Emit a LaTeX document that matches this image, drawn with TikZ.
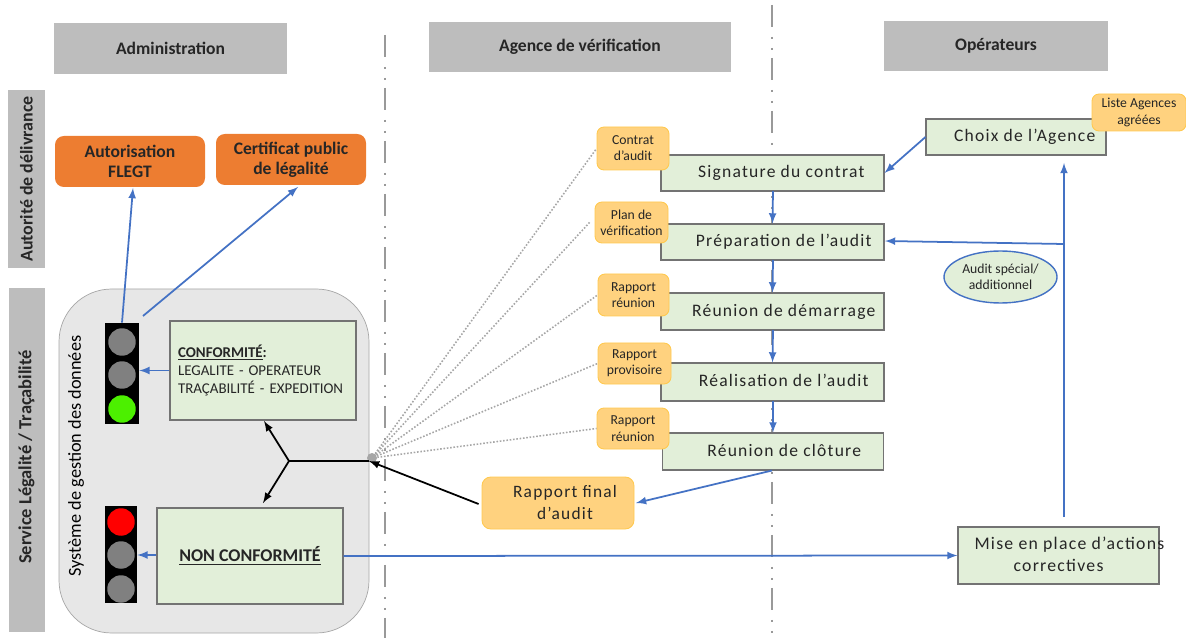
\documentclass[tikz,border=0pt]{standalone}
\usepackage{fontspec}
\setmainfont{Carlito}
\newfontfamily\spacedfont[LetterSpace=7]{Carlito}
\usetikzlibrary{shapes}
\usetikzlibrary{arrows}

\definecolor{headgray}{HTML}{BDBDBD}
\definecolor{panelgray}{HTML}{E7E7E7}
\definecolor{boxgreen}{HTML}{E2EFD9}
\definecolor{docorange}{HTML}{FFD27F}
\definecolor{docedge}{HTML}{FFC94F}
\definecolor{certorange}{HTML}{ED7D31}
\definecolor{linkblue}{HTML}{4472C4}
\definecolor{textdark}{HTML}{262626}

\newcommand{\steptext}[2]{\hspace*{#1}\raisebox{0.05cm}{#2}}

\tikzset{
    boxsize/.style 2 args={minimum width=#1*0.02cm, minimum height=#2*0.02cm, inner sep=0pt},
    headbox/.style={fill=headgray, font=\bfseries\fontsize{10}{12}\selectfont, text=textdark},
    sidebox/.style={headbox, rotate=90, font=\fontsize{10.2}{12}\selectfont\bfseries},
    certbox/.style={fill=certorange, rounded corners=5pt, align=center, font=\bfseries\fontsize{10}{11.5}\selectfont, text=textdark},
    stepbox/.style={draw=black!55, line width=0.6pt, fill=boxgreen, font=\spacedfont\fontsize{10}{12}\selectfont, text=textdark, align=center},
    docnote/.style={draw=docedge, line width=0.5pt, fill=docorange, rounded corners=4pt, align=center, font=\fontsize{7.8}{9.3}\selectfont, text=textdark},
    docfinal/.style={docnote, rounded corners=5pt, font=\spacedfont\fontsize{9.9}{12.5}\selectfont},
    lightcase/.style={fill=black},
    lamp/.style={circle, fill=#1, minimum size=0.55cm, inner sep=0pt},
    bluelink/.style={->, >=latex, linkblue, line width=1pt},
    blacklink/.style={->, >=latex, black, line width=1pt},
    dotlink/.style={gray!70, densely dotted, line width=0.9pt},
    lanesep/.style={gray!80, line width=1pt, dash pattern=on 0.44cm off 0.2cm on 0.04cm off 0.18cm on 0.04cm off 0.16cm}
}

\begin{document}
\begin{tikzpicture}[x=0.02cm, y=-0.02cm]
    \useasboundingbox (0,0) rectangle (1186,638);

    % lanes
    \coordinate (L1a) at (385,35);
    \coordinate (L1b) at (385,638);
    \coordinate (L2a) at (772,5);
    \coordinate (L2b) at (772,638);
    \draw [lanesep] (L1a) -- (L1b);
    \draw [lanesep] (L2a) -- (L2b);

    \node (HA) at (170.5,48.5) [headbox, boxsize={233}{51}] {Administration};
    \node (HV) at (580,47) [headbox, boxsize={302}{50}] {Agence de vérification};
    \node (HO) at (996,46) [headbox, boxsize={224}{50}] {Opérateurs};

    \node (SA) at (26.5,179) [sidebox, boxsize={178}{37}] {Autorité de délivrance};
    \node (SL) at (26.5,460) [sidebox, boxsize={343}{36}, font=\fontsize{10.5}{12}\selectfont\bfseries] {\hspace*{0.12cm}Service Légalité / Traçabilité};

    \node (Panel) at (214,461) [draw=gray!70, fill=panelgray, rounded corners=30pt, boxsize={310}{344}] {};
    \node (PanelText) at (76,456) [rotate=90, font=\fontsize{10.4}{13}\selectfont, text=black] {Système de gestion des données};

    \node (Auto) at (130,161.5) [certbox, boxsize={150}{51}] {Autorisation\\FLEGT};
    \node (Cert) at (291,159.5) [certbox, boxsize={150}{51}] {Certificat public\\de légalité};

    % traffic lights
    \node (T1) at (122,373.5) [lightcase, boxsize={34}{101}] {};
    \node (T1a) at (122,342) [lamp=gray] {};
    \node (T1b) at (122,375) [lamp=gray] {};
    \node (T1c) at (122,409) [lamp={green!90!black!60!lime}] {};
    \node (T2) at (121,554.5) [lightcase, boxsize={32}{97}] {};
    \node (T2a) at (121,522) [lamp=red] {};
    \node (T2b) at (121,555) [lamp=gray] {};
    \node (T2c) at (121,589) [lamp=gray] {};

    \node (Conf) at (263,370.5) [stepbox, boxsize={186}{99}, inner xsep=0.16cm, text width=3.4cm, font=\fontsize{8.5}{10.5}\selectfont, align=left] {\textbf{\underline{CONFORMITÉ}:}\\LEGALITE - OPERATEUR\\TRAÇABILITÉ - EXPEDITION};
    \node (NonConf) at (250,556) [stepbox, boxsize={186}{96}, font=\bfseries\fontsize{10.2}{12}\selectfont] {\underline{NON CONFORMITÉ}};

    % audit steps
    \node (Sign) at (772.5,173) [stepbox, boxsize={223}{36}] {\steptext{0.35cm}{Signature du contrat}};
    \node (Prep) at (772.5,242) [stepbox, boxsize={223}{36}] {\steptext{0.45cm}{Préparation de l’audit}};
    \node (Demar) at (772.5,311.5) [stepbox, boxsize={223}{37}] {\steptext{0.45cm}{Réunion de démarrage}};
    \node (Real) at (772.5,382) [stepbox, boxsize={223}{38}] {\steptext{0.45cm}{Réalisation de l’audit}};
    \node (Clot) at (773,451.5) [stepbox, boxsize={221}{37}] {\steptext{0.45cm}{Réunion de clôture}};

    \node (NContrat) at (633,148.5) [docnote, boxsize={72}{43}] {\raisebox{0.03cm}{Contrat}\\\raisebox{0.03cm}{d’audit}};
    \node (NPlan) at (631.5,222.5) [docnote, boxsize={73}{41}] {Plan de\\vérification};
    \node (NRapport) at (633.5,295) [docnote, boxsize={71}{42}] {Rapport\\réunion};
    \node (NProv) at (634.5,363.5) [docnote, boxsize={73}{41}] {Rapport\\provisoire};
    \node (NClot) at (633,428.5) [docnote, boxsize={72}{41}] {Rapport\\réunion};
    \node (NFinal) at (558,503) [docfinal, boxsize={152}{52}] {\hspace*{0.28cm}Rapport final\\\hspace*{0.28cm}d’audit};

    \node (Choix) at (1016,137) [stepbox, boxsize={180}{36}] {\steptext{0.35cm}{Choix de l’Agence}};
    \node (Liste) at (1139,112.5) [docnote, boxsize={94}{37}] {Liste Agences\\agréées};
    \node (Special) at (1000.5,277) [ellipse, draw=linkblue, line width=0.8pt, fill=boxgreen, boxsize={113}{52}, align=center, font=\fontsize{7.8}{9.3}\selectfont, text=textdark] {Audit spécial/\\additionnel};
    \node (Mise) at (1058.5,555.5) [stepbox, boxsize={201}{57}, font=\spacedfont\fontsize{10.1}{12.5}\selectfont] {\raisebox{0.05cm}{\hspace*{0.32cm}\makebox[3.68cm][l]{Mise en place d’actions}}\\\raisebox{0.05cm}{correctives}};

    % free ends
    \node (Hub) at (372,458) [circle, fill=gray!70, minimum size=0.2cm, inner sep=0pt] {};
    \coordinate (Fork) at (289,461);
    \coordinate (HubIn) at (369,461);
    \coordinate (ConfIn) at (264,421);
    \coordinate (NonIn) at (263,503);
    \coordinate (Up) at (1064,517);
    \coordinate (UpEnd) at (1064,163);
    \coordinate (UpMid) at (1064,244);
    \coordinate (PrepIn) at (885,241);
    \coordinate (PlanEnd) at (590,222);
    \coordinate (AutoIn) at (133,188);
    \coordinate (LightOut) at (143,316);
    \coordinate (CertIn) at (298,187);
    \coordinate (FinalIn) at (636,503);

    \draw [dotlink] (Hub) -- (NContrat.west);
    \draw [dotlink] (Hub) -- (PlanEnd);
    \draw [dotlink] (Hub) -- (NRapport.west);
    \draw [dotlink] (Hub) -- (NProv.west);
    \draw [dotlink] (Hub) -- (NClot.west);

    \draw [blacklink] (NFinal.west) ++(-3,1) -- (HubIn);
    \draw [black, line width=1pt] (HubIn) -- (Fork);
    \draw [blacklink] (Fork) -- (ConfIn);
    \draw [blacklink] (Fork) -- (NonIn);

    \draw [bluelink] (Conf.west) -- (T1.east |- Conf.west);
    \draw [bluelink] (NonConf.west |- T2b) -- (T2.east |- T2b);
    \draw [bluelink] (T1.north) -- (AutoIn);
    \draw [bluelink] (LightOut) -- (CertIn);

    \draw [bluelink] (Sign) ++(0.5,18) -- (Prep.north);
    \draw [bluelink] (Prep) ++(0.5,18) -- (Demar.north);
    \draw [bluelink] (Demar) ++(0.5,18.5) -- (Real.north);
    \draw [bluelink] (Real) ++(0.5,19) -- (Clot.north);

    \draw [bluelink] (Clot.south) ++(-1,0) -- (FinalIn);
    \draw [bluelink] (Choix.west) -- (Sign.east);
    \draw [bluelink] (UpMid) -- (PrepIn);
    \draw [bluelink] (Up) -- (UpEnd);
    \draw [bluelink] (NonConf.east) -- (Mise.west);
\end{tikzpicture}
\end{document}
